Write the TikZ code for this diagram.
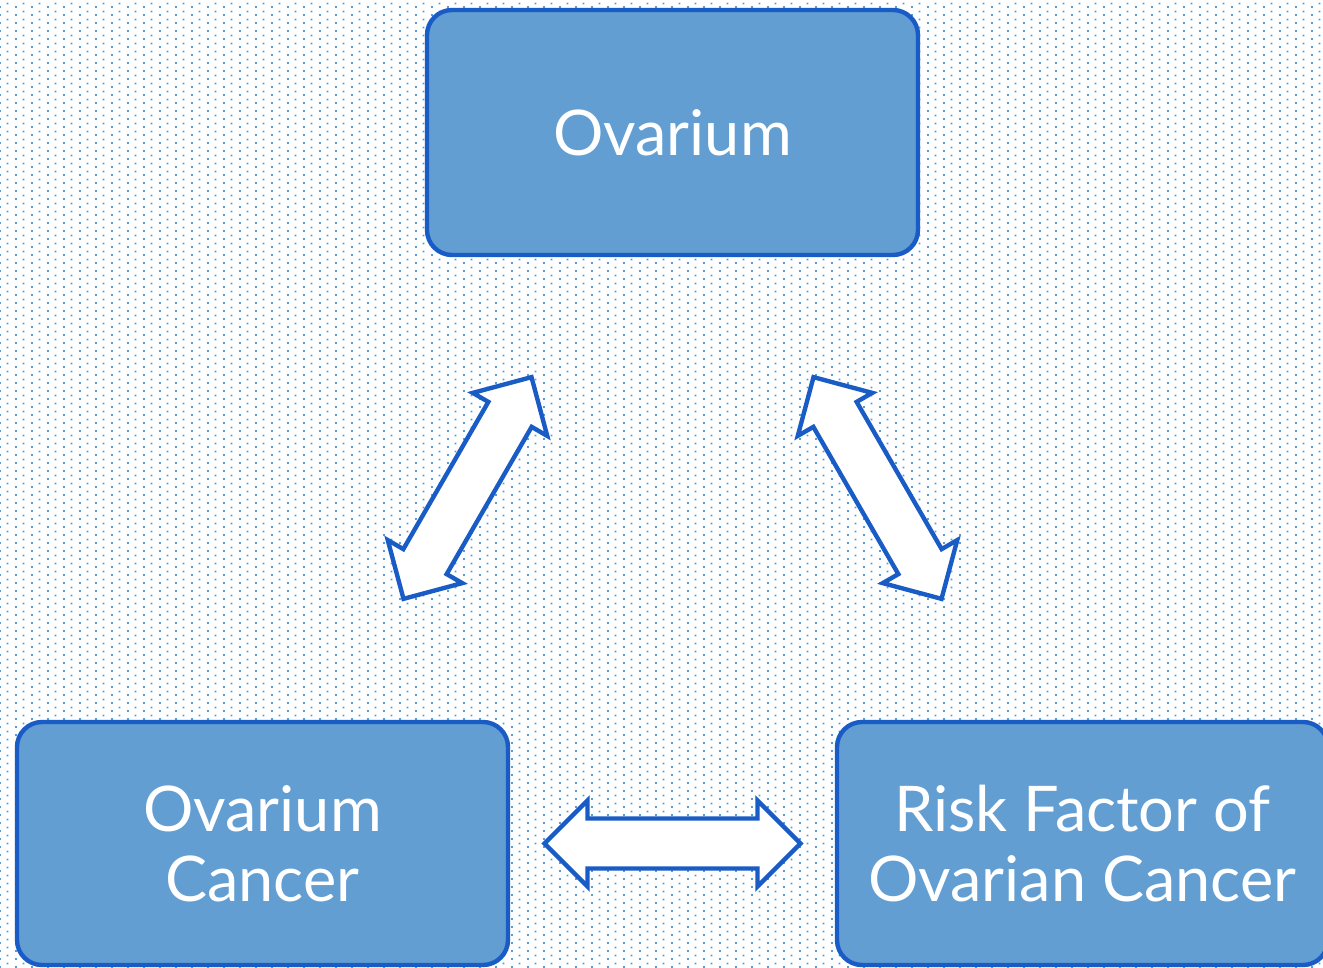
\documentclass[tikz,border=0pt]{standalone}
\usepackage{fontspec}
\setmainfont{Lato}
\usetikzlibrary{positioning,calc,patterns}

\definecolor{boxfill}{HTML}{629ED2}
\definecolor{boxline}{HTML}{1A5CC6}
\definecolor{dotblue}{HTML}{5B9BD5}

\pgfdeclarepatternformonly{bgdots}{\pgfqpoint{0pt}{0pt}}{\pgfqpoint{8pt}{4pt}}{\pgfqpoint{8pt}{4pt}}{%
  \pgfpathrectangle{\pgfqpoint{0pt}{0pt}}{\pgfqpoint{1pt}{1pt}}%
  \pgfpathrectangle{\pgfqpoint{4pt}{2pt}}{\pgfqpoint{1pt}{1pt}}%
  \pgfusepath{fill}}

\tikzset{
  dblarrow/.pic={
    \draw[boxline, fill=white, line width=2.2pt]
      (-128,0) -- (-85,43) -- (-85,25) -- (85,25) -- (85,43) -- (128,0)
      -- (85,-43) -- (85,-25) -- (-85,-25) -- (-85,-43) -- cycle;
  }
}

\begin{document}
\begin{tikzpicture}[x=0.5pt,y=-0.5pt,on grid,
  topic/.style={draw=boxline, fill=boxfill, line width=2.2pt, rounded corners=12.5pt,
    text=white, font=\fontsize{31.5}{35}\selectfont, align=center,
    minimum width=245.5pt, minimum height=122.5pt}]
   \clip (0,0) rectangle (1323,968);
   \fill[white] (0,0) rectangle (1323,968);
   \fill[pattern=bgdots, pattern color=dotblue] (0,0) rectangle (1323,968);
   \node[topic] (ova) at (672.5,132.5) {Ovarium};
   \node[topic, minimum height=121.5pt] (oc) [below left=355.5pt and 205pt of ova] {Ovarium\\Cancer};
   \node[topic, minimum height=121.5pt] (risk) [right=410pt of oc] {Risk Factor of\\Ovarian Cancer};
   \pic[rotate=60] at ($(ova)!0.5!(oc)$) {dblarrow};
   \pic[rotate=-60] at ($(ova)!0.5!(risk)$) {dblarrow};
   \pic at ($(oc)!0.5!(risk)$) {dblarrow};
\end{tikzpicture}
\end{document}
